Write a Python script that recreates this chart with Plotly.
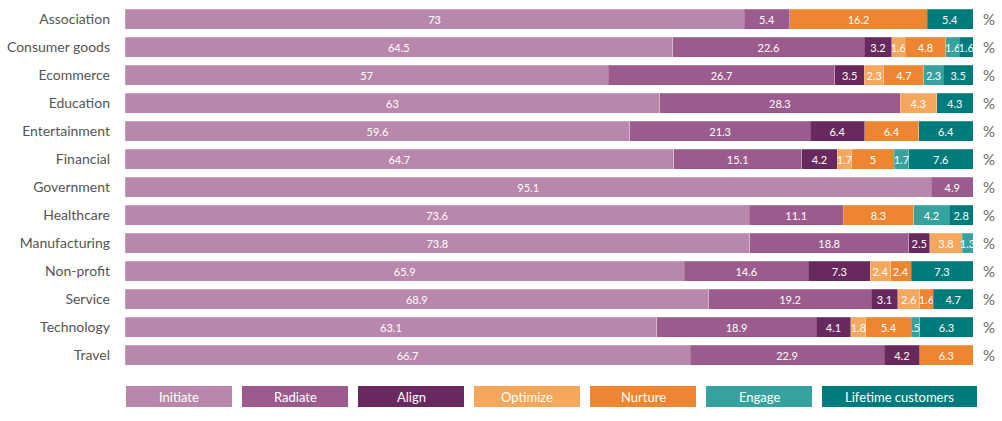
import plotly.graph_objects as go

categories = ["Association", "Consumer goods", "Ecommerce", "Education", "Entertainment",
              "Financial", "Government", "Healthcare", "Manufacturing", "Non-profit",
              "Service", "Technology", "Travel"]

series_names = ["Initiate", "Radiate", "Align", "Optimize", "Nurture", "Engage", "Lifetime customers"]
colors = ["#b987ab", "#9b5c8d", "#68295e", "#f6a75e", "#ee8531", "#34a39f", "#007b7b"]

initiate = [73, 64.5, 57, 63, 59.6, 64.7, 95.1, 73.6, 73.8, 65.9, 68.9, 63.1, 66.7]
radiate = [5.4, 22.6, 26.7, 28.3, 21.3, 15.1, 4.9, 11.1, 18.8, 14.6, 19.2, 18.9, 22.9]
align = [None, 3.2, 3.5, None, 6.4, 4.2, None, None, 2.5, 7.3, 3.1, 4.1, 4.2]
optimize = [None, 1.6, 2.3, 4.3, None, 1.7, None, None, 3.8, 2.4, 2.6, 1.8, None]
nurture = [16.2, 4.8, 4.7, None, 6.4, 5, None, 8.3, None, 2.4, 1.6, 5.4, 6.3]
engage = [None, 1.6, 2.3, None, None, 1.7, None, 4.2, 1.3, None, None, 1.0, None]
lifetime = [5.4, 1.6, 3.5, 4.3, 6.4, 7.6, None, 2.8, None, 7.3, 4.7, 6.3, None]

series_values = [initiate, radiate, align, optimize, nurture, engage, lifetime]

# label shown in the source where it differs from the drawn segment width
label_overrides = {("Engage", "Technology"): ".5"}

FONT = "Lato"

def fmt(v):
    if v is None:
        return ""
    return f"{v:g}"

fig = go.Figure()
for name, vals, col in zip(series_names, series_values, colors):
    texts = [label_overrides.get((name, c), fmt(v)) for c, v in zip(categories, vals)]
    fig.add_trace(go.Bar(
        y=categories, x=vals, name=name, orientation="h",
        marker=dict(color=col, line=dict(color="rgba(255,255,255,0.35)", width=0.6)),
        text=texts, textposition="inside", insidetextanchor="middle",
        textangle=0, textfont=dict(color="white", size=11, family=FONT),
        hoverinfo="skip",
    ))

# "%" markers at the right of each row
for c in categories:
    fig.add_annotation(x=1.0, xref="paper", xanchor="left", yanchor="middle", xshift=8,
                       y=c, yref="y", text="%", showarrow=False,
                       font=dict(size=15, color="#666", family=FONT))

# Custom legend boxes below plot
L, R = 125, 973
W = R - L
plot_top, plot_bot = 5, 369
H = plot_bot - plot_top
boxes = [(126, 232), (242, 348), (358, 464), (474, 580), (590, 696), (706, 812), (822, 977)]
y0p = (plot_bot - 407) / H
y1p = (plot_bot - 386) / H
for (a, b), name, col in zip(boxes, series_names, colors):
    x0 = (a - L) / W
    x1 = (b - L) / W
    fig.add_shape(type="rect", xref="paper", yref="paper", x0=x0, x1=x1, y0=y0p, y1=y1p,
                  fillcolor=col, line=dict(width=0))
    fig.add_annotation(xref="paper", yref="paper", x=(x0 + x1) / 2, y=(y0p + y1p) / 2,
                       xanchor="center", yanchor="middle",
                       text=name, showarrow=False, font=dict(size=13, color="white", family=FONT))

fig.update_layout(
    width=1002, height=421,
    barmode="stack", barnorm="percent", bargap=0.286,
    margin=dict(l=125, r=29, t=5, b=52, autoexpand=False),
    plot_bgcolor="white", paper_bgcolor="white",
    showlegend=False,
    uniformtext=dict(minsize=11, mode="show"),
    xaxis=dict(range=[0, 100], visible=False, fixedrange=True, automargin=False),
    yaxis=dict(autorange="reversed", tickfont=dict(size=14, color="#555555", family=FONT),
               ticks="", showgrid=False, ticklabelstandoff=14, automargin=False,
               fixedrange=True),
    font=dict(family=FONT),
)

fig.write_html("out.html", config={"displayModeBar": False, "staticPlot": True},
               post_script="document.body.style.margin='0px';document.body.style.overflow='hidden';")
